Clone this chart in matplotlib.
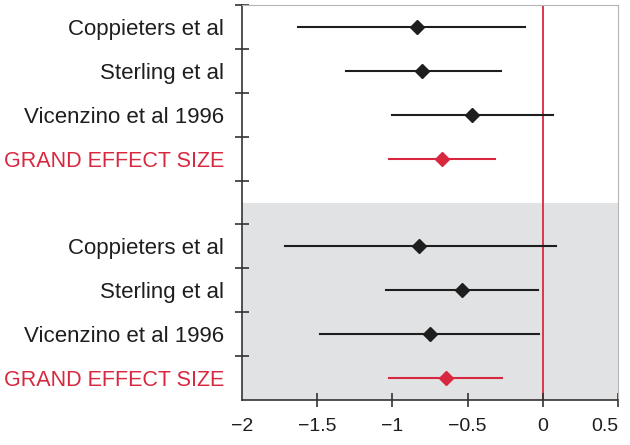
import matplotlib
matplotlib.use('Agg')
from matplotlib import pyplot as plt

# data (effect sizes with CI)
labels = ["Coppieters et al", "Sterling et al", "Vicenzino et al 1996", "GRAND EFFECT SIZE"]

top_mean = [-0.835, -0.80, -0.47, -0.67]
top_low = [-1.63, -1.31, -1.005, -1.025]
top_high = [-0.12, -0.28, 0.07, -0.32]

bot_mean = [-0.82, -0.54, -0.75, -0.645]
bot_low = [-1.715, -1.045, -1.48, -1.02]
bot_high = [0.085, -0.03, -0.025, -0.27]

xticks = [-2, -1.5, -1, -0.5, 0, 0.5]
xticklabels = ["\u22122", "\u22121.5", "\u22121", "\u22120.5", "0", "0.5"]

RED = '#d8283f'
DARK = '#1e1e1e'
GRAY_BG = '#e1e2e4'

plt.rcParams['font.family'] = ['Liberation Sans', 'DejaVu Sans']

fig = plt.figure(figsize=(6.3, 4.45), dpi=100)
ax = fig.add_axes([242 / 630, 45 / 445, 376 / 630, 395 / 445])

ax.set_xlim(-2, 0.5)
ax.set_ylim(0, 9)

# shaded lower half
ax.axhspan(0, 4.5, color=GRAY_BG, zorder=0, lw=0)

# no-effect line
ax.axvline(0, color=RED, lw=1.3, zorder=1)

top_y = [8.5, 7.5, 6.5, 5.5]
bot_y = [3.5, 2.5, 1.5, 0.5]

for ys, means, lows, highs in [(top_y, top_mean, top_low, top_high),
                               (bot_y, bot_mean, bot_low, bot_high)]:
    for i in range(4):
        c = RED if i == 3 else DARK
        ax.plot([lows[i], highs[i]], [ys[i], ys[i]], color=c, lw=1.5, zorder=2)
        ax.plot(means[i], ys[i], marker='D', color=c, markersize=7, zorder=3)

# y ticks between rows, labels at row centres
ax.set_yticks([1, 2, 3, 4, 5, 6, 7, 8, 9])
ax.set_yticklabels([])
ax.set_yticks(top_y + bot_y, minor=True)
ax.set_yticklabels(labels + labels, minor=True, fontsize=16)
ax.tick_params(axis='y', which='major', direction='inout', length=10, width=1.2, color='#333333')
ax.tick_params(axis='y', which='minor', length=0, pad=13)
for i, t in enumerate(ax.get_yticklabels(minor=True)):
    if i % 4 == 3:
        t.set_color(RED)
        t.set_fontsize(15.5)
    else:
        t.set_color(DARK)

ax.set_xticks(xticks)
ax.set_xticklabels(xticklabels, fontsize=14, color=DARK)
ax.tick_params(axis='x', direction='inout', length=10, width=1.2, color='#333333', pad=8)
ax.xaxis.get_major_ticks()[0].tick1line.set_visible(False)
# last label kept inside the figure like the reference
ax.get_xticklabels()[-1].set_horizontalalignment('right')

ax.spines['left'].set_color('#333333')
ax.spines['left'].set_linewidth(1.2)
ax.spines['bottom'].set_color('#333333')
ax.spines['bottom'].set_linewidth(1.2)
ax.spines['top'].set_color('#b5b5b5')
ax.spines['right'].set_color('#b5b5b5')

plt.savefig('out.png', dpi=100)
plt.close()
